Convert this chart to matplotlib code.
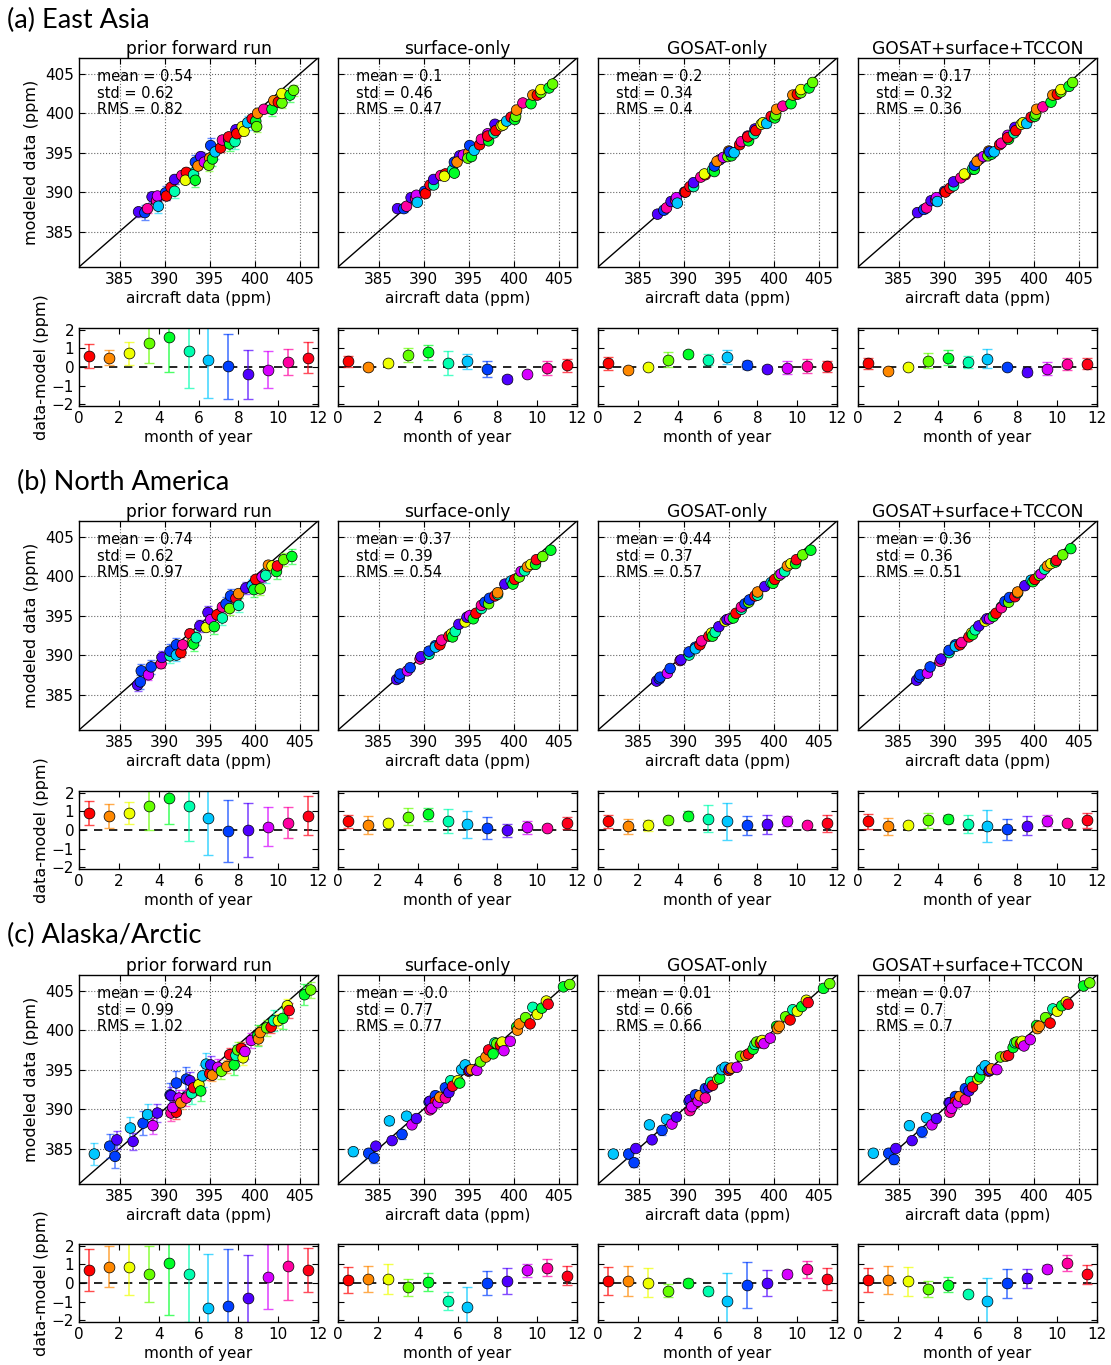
#!/usr/bin/env python3
"""
Aircraft vs modeled CO2 comparison: scatter + monthly residual panels for three regions.
"""
import numpy as np
import matplotlib
matplotlib.use("Agg")
import matplotlib.pyplot as plt

# ---------------------------------------------------------------- data
regions = ["(a) East Asia", "(b) North America", "(c) Alaska/Arctic"]
runs = ["prior forward run", "surface-only", "GOSAT-only", "GOSAT+surface+TCCON"]
month_pos = [0.5, 1.5, 2.5, 3.5, 4.5, 5.5, 6.5, 7.5, 8.5, 9.5, 10.5, 11.5]

# East Asia
x_a = [387.1, 387.8, 388.1, 388.6, 389.1, 389.2, 389.3, 390.1, 390.2, 390.7,
       391.1, 391.1, 391.9, 392.4, 392.3, 393.2, 393.4, 393.4, 394.0, 393.7,
       394.4, 395.0, 394.9, 395.3, 395.1, 395.6, 396.2, 396.4, 397.1, 397.2,
       397.1, 397.8, 397.9, 398.0, 398.6, 398.8, 399.2, 399.7, 400.1, 400.2,
       400.3, 401.0, 401.9, 402.1, 402.6, 403.0, 403.0, 403.9, 404.3]
mon_a = [8, 7, 10, 8, 10, 9, 6, 7, 0, 11, 5, 8, 10, 0, 2, 5, 4, 7, 8, 1,
         9, 1, 3, 4, 7, 6, 0, 10, 9, 4, 11, 5, 8, 0, 2, 2, 6, 11, 4, 3,
         1, 10, 4, 1, 0, 3, 2, 4, 3]
y_prior_a = [387.5, 387.4, 387.9, 389.4, 388.9, 389.5, 388.2, 389.9, 389.5, 390.6,
             390.1, 391.6, 392.1, 392.5, 391.5, 392.2, 391.5, 393.8, 394.5, 393.3,
             393.8, 394.3, 393.4, 394.2, 395.9, 395.1, 395.6, 396.6, 396.6, 396.1,
             397.0, 396.4, 397.9, 397.4, 398.3, 397.7, 398.8, 399.3, 399.0, 398.3,
             400.0, 400.5, 400.5, 401.6, 401.4, 401.3, 402.5, 402.3, 402.9]
y_surf_a = [387.9, 387.9, 388.2, 389.3, 389.2, 389.6, 388.7, 390.1, 389.8, 390.9,
            390.9, 391.6, 392.1, 392.3, 392.0, 392.8, 392.4, 393.8, 394.6, 393.8,
            394.7, 395.0, 394.3, 394.5, 395.9, 395.3, 396.0, 396.7, 397.4, 396.5,
            397.1, 397.5, 398.6, 397.8, 398.4, 398.5, 399.0, 399.5, 399.2, 399.6,
            400.4, 401.3, 401.2, 402.3, 402.3, 402.6, 403.0, 403.2, 403.7]
y_gosat_a = [387.2, 387.7, 388.0, 388.8, 389.0, 389.3, 388.6, 390.0, 390.0, 390.7,
             390.7, 391.2, 391.9, 392.2, 392.3, 392.8, 392.6, 393.3, 394.1, 393.9,
             394.4, 395.2, 394.5, 394.6, 395.1, 395.0, 396.0, 396.4, 397.1, 396.5,
             397.0, 397.4, 398.0, 397.8, 398.6, 398.8, 398.7, 399.6, 399.4, 399.8,
             400.5, 400.9, 401.2, 402.3, 402.4, 402.6, 403.0, 403.2, 403.9]
y_comb_a = [387.4, 387.8, 388.0, 388.9, 389.0, 389.3, 388.8, 390.1, 390.0, 390.5,
            390.8, 391.3, 391.8, 392.2, 392.3, 392.9, 392.9, 393.4, 394.2, 393.9,
            394.5, 395.2, 394.6, 394.8, 395.1, 395.1, 396.0, 396.2, 397.2, 396.7,
            396.9, 397.5, 398.2, 397.8, 398.6, 398.8, 398.7, 399.5, 399.6, 399.9,
            400.5, 400.8, 401.4, 402.3, 402.4, 402.7, 403.0, 403.4, 403.9]
sc_err_prior_a = [0.5, 0.4, 0.5, 0.7, 0.9, 0.9, 0.9, 0.9, 0.6, 0.5, 0.5, 0.5]
sc_err_post_a = [0.15, 0.1, 0.1, 0.2, 0.2, 0.3, 0.4, 0.4, 0.15, 0.1, 0.2, 0.15]

# North America
x_b = [387.0, 387.3, 387.4, 388.2, 388.5, 389.6, 389.7, 390.6, 390.6, 391.3,
       391.3, 391.8, 392.0, 392.8, 393.1, 393.2, 393.5, 393.9, 394.6, 394.8,
       395.1, 395.5, 395.8, 396.4, 396.4, 396.8, 397.2, 397.3, 397.9, 398.2,
       398.2, 399.0, 399.7, 399.9, 400.1, 400.6, 400.8, 401.2, 401.5, 401.9,
       402.4, 402.5, 403.2, 404.1]
mon_b = [8, 7, 7, 9, 7, 10, 8, 5, 7, 7, 6, 0, 10, 11, 2, 4, 5, 8, 2, 8,
         9, 4, 0, 5, 10, 7, 3, 7, 11, 5, 1, 8, 6, 4, 0, 3, 9, 5, 1, 2,
         4, 11, 3, 4]
y_prior_b = [386.2, 386.6, 388.0, 387.5, 388.5, 388.9, 389.7, 389.9, 390.5, 391.3,
             390.0, 390.3, 391.3, 392.7, 391.6, 391.4, 392.2, 393.7, 393.5, 395.4,
             394.5, 393.6, 395.1, 394.7, 396.1, 396.5, 395.9, 397.5, 397.2, 396.3,
             397.8, 398.5, 398.8, 398.3, 399.6, 398.4, 399.9, 400.1, 401.4, 401.3,
             400.6, 401.3, 402.1, 402.5]
y_surf_b = [386.9, 387.1, 387.6, 388.0, 388.4, 389.5, 389.8, 390.1, 390.5, 391.2,
            391.0, 391.3, 391.9, 392.4, 392.7, 392.3, 393.0, 393.9, 394.2, 394.8,
            395.0, 394.6, 395.3, 395.9, 396.3, 396.7, 396.5, 397.2, 397.5, 397.7,
            397.9, 399.0, 399.4, 399.0, 399.6, 399.9, 400.6, 400.7, 401.2, 401.5,
            401.5, 402.1, 402.5, 403.3]
y_gosat_b = [386.7, 387.0, 387.2, 387.7, 388.3, 389.3, 389.4, 390.0, 390.4, 391.0,
             390.8, 391.3, 391.8, 392.4, 392.8, 392.4, 392.9, 393.6, 394.3, 394.5,
             394.6, 394.7, 395.3, 395.8, 396.1, 396.5, 396.7, 397.0, 397.5, 397.6,
             398.0, 398.7, 399.2, 399.1, 399.6, 400.1, 400.3, 400.6, 401.3, 401.6,
             401.6, 402.1, 402.7, 403.3]
y_comb_b = [386.8, 387.2, 387.5, 387.7, 388.5, 389.2, 389.5, 390.3, 390.6, 391.3,
            391.1, 391.3, 391.6, 392.3, 392.8, 392.6, 393.2, 393.7, 394.3, 394.6,
            394.6, 394.9, 395.3, 396.1, 396.0, 396.8, 396.7, 397.3, 397.4, 397.9,
            398.0, 398.8, 399.5, 399.3, 399.6, 400.1, 400.3, 400.9, 401.3, 401.6,
            401.8, 402.0, 402.7, 403.5]
sc_err_prior_b = [0.5, 0.5, 0.5, 0.8, 0.9, 0.9, 0.8, 0.9, 0.8, 0.6, 0.5, 0.6]
sc_err_post_b = [0.15, 0.15, 0.1, 0.2, 0.2, 0.3, 0.4, 0.4, 0.2, 0.15, 0.1, 0.2]

# Alaska/Arctic
x_c = [382.2, 383.9, 384.5, 384.7, 386.2, 386.5, 387.6, 388.1, 388.7, 389.2,
       390.6, 390.7, 390.7, 391.3, 391.3, 390.9, 391.6, 391.8, 392.4, 392.4,
       392.8, 393.0, 393.2, 393.8, 394.0, 394.2, 394.6, 395.0, 395.1, 395.3,
       395.9, 396.3, 396.9, 397.2, 397.7, 397.9, 398.1, 398.5, 398.7, 398.9,
       399.6, 400.3, 400.4, 400.6, 401.3, 401.8, 402.1, 402.6, 403.1, 403.6,
       403.8, 405.5, 406.2]
mon_c = [6, 7, 7, 8, 6, 8, 7, 6, 9, 8, 7, 8, 10, 7, 0, 9, 9, 1, 7, 10,
         8, 5, 11, 2, 4, 6, 6, 0, 8, 1, 9, 3, 1, 11, 4, 5, 3, 0, 2, 9,
         9, 4, 1, 1, 3, 0, 5, 2, 4, 2, 11, 4, 3]
y_prior_c = [384.3, 385.3, 384.0, 386.1, 387.6, 385.9, 388.2, 389.3, 387.9, 389.5,
             391.8, 391.7, 389.5, 393.3, 389.6, 390.2, 391.4, 390.8, 393.8, 391.4,
             393.6, 392.0, 392.7, 393.1, 392.3, 394.2, 395.7, 394.5, 395.6, 394.3,
             395.3, 394.8, 395.4, 396.9, 395.6, 396.8, 397.5, 397.7, 396.5, 397.3,
             398.7, 399.3, 398.9, 399.7, 400.3, 400.4, 401.2, 401.2, 401.5, 403.1,
             402.5, 404.5, 405.1]
y_surf_c = [384.6, 384.4, 383.8, 385.3, 388.5, 386.0, 386.8, 389.1, 388.0, 388.8,
            390.9, 391.0, 389.9, 391.7, 390.9, 390.1, 390.8, 391.5, 392.7, 391.4,
            392.1, 393.6, 392.9, 393.6, 393.3, 395.0, 395.6, 394.8, 394.9, 395.0,
            394.9, 396.0, 396.6, 397.5, 397.0, 398.4, 398.3, 398.1, 398.5, 397.4,
            398.6, 400.4, 400.0, 400.8, 401.6, 400.8, 402.9, 402.0, 402.8, 403.7,
            403.3, 405.5, 405.8]
y_gosat_c = [384.3, 384.3, 383.2, 385.0, 388.0, 386.1, 387.3, 388.7, 388.1, 389.0,
             391.0, 391.2, 389.8, 391.8, 390.7, 390.3, 391.0, 391.7, 392.6, 391.4,
             392.8, 393.4, 393.0, 393.8, 393.9, 395.0, 395.3, 394.9, 395.1, 395.2,
             395.3, 396.7, 396.8, 397.0, 397.6, 398.2, 398.5, 398.4, 398.7, 398.3,
             399.0, 400.5, 400.2, 400.5, 401.7, 401.3, 402.6, 402.4, 403.0, 403.8,
             403.5, 405.3, 405.9]
y_comb_c = [384.4, 384.4, 383.6, 385.0, 387.9, 386.0, 387.1, 388.9, 388.0, 388.8,
            390.8, 390.8, 389.6, 391.6, 390.9, 390.1, 390.8, 391.6, 392.6, 391.2,
            392.3, 393.5, 392.8, 393.8, 394.1, 395.0, 395.5, 394.8, 394.9, 395.1,
            395.0, 396.6, 396.7, 396.8, 397.8, 398.4, 398.5, 398.3, 398.6, 398.0,
            398.8, 400.6, 400.2, 400.5, 401.6, 400.9, 402.7, 402.4, 403.1, 403.6,
            403.3, 405.6, 406.0]
sc_err_prior_c = [0.8, 0.8, 0.9, 1.0, 1.3, 1.3, 1.4, 1.5, 1.1, 1.0, 1.0, 0.9]
sc_err_post_c = [0.1, 0.1, 0.1, 0.1, 0.1, 0.2, 0.5, 0.6, 0.2, 0.1, 0.1, 0.1]

# summary statistics printed in each scatter panel
stats_a = [("0.54", "0.62", "0.82"), ("0.1", "0.46", "0.47"),
           ("0.2", "0.34", "0.4"), ("0.17", "0.32", "0.36")]
stats_b = [("0.74", "0.62", "0.97"), ("0.37", "0.39", "0.54"),
           ("0.44", "0.37", "0.57"), ("0.36", "0.36", "0.51")]
stats_c = [("0.24", "0.99", "1.02"), ("-0.0", "0.77", "0.77"),
           ("0.01", "0.66", "0.66"), ("0.07", "0.7", "0.7")]

# monthly mean residual (data-model) and its spread
res_prior_a = [0.6, 0.5, 0.75, 1.3, 1.6, 0.85, 0.4, 0.05, -0.4, -0.15, 0.25, 0.5]
err_prior_a = [0.65, 0.4, 0.62, 1.1, 1.85, 2.0, 2.05, 1.75, 1.3, 1.0, 0.7, 0.82]
res_surf_a = [0.3, 0.0, 0.2, 0.65, 0.8, 0.2, 0.3, -0.1, -0.65, -0.4, -0.05, 0.1]
err_surf_a = [0.3, 0.15, 0.15, 0.4, 0.4, 0.65, 0.4, 0.45, 0.15, 0.1, 0.4, 0.35]
res_gosat_a = [0.2, -0.18, 0.0, 0.4, 0.7, 0.4, 0.55, 0.1, -0.1, -0.05, 0.05, 0.05]
err_gosat_a = [0.35, 0.15, 0.1, 0.4, 0.15, 0.3, 0.38, 0.2, 0.15, 0.35, 0.38, 0.3]
res_comb_a = [0.2, -0.2, 0.0, 0.35, 0.5, 0.27, 0.45, 0.0, -0.25, -0.1, 0.15, 0.18]
err_comb_a = [0.3, 0.1, 0.1, 0.4, 0.4, 0.33, 0.5, 0.1, 0.17, 0.35, 0.33, 0.3]

res_prior_b = [0.93, 0.77, 0.9, 1.3, 1.7, 1.3, 0.62, -0.05, 0.0, 0.18, 0.4, 0.78]
err_prior_b = [0.65, 0.65, 0.6, 1.3, 1.4, 1.9, 1.97, 1.65, 1.45, 1.05, 0.85, 1.05]
res_surf_b = [0.47, 0.26, 0.38, 0.72, 0.86, 0.47, 0.3, 0.12, -0.02, 0.15, 0.12, 0.38]
err_surf_b = [0.35, 0.5, 0.15, 0.45, 0.35, 0.65, 0.72, 0.6, 0.35, 0.35, 0.12, 0.3]
res_gosat_b = [0.47, 0.2, 0.26, 0.52, 0.78, 0.6, 0.47, 0.26, 0.3, 0.47, 0.26, 0.35]
err_gosat_b = [0.35, 0.4, 0.3, 0.2, 0.25, 0.73, 1.0, 0.52, 0.5, 0.28, 0.1, 0.48]
res_comb_b = [0.47, 0.2, 0.26, 0.53, 0.6, 0.33, 0.2, 0.03, 0.24, 0.5, 0.38, 0.53]
err_comb_b = [0.4, 0.47, 0.12, 0.4, 0.22, 0.5, 0.85, 0.58, 0.5, 0.3, 0.12, 0.4]

res_prior_c = [0.7, 0.87, 0.84, 0.48, 1.1, 0.48, -1.33, -1.26, -0.8, 0.34, 0.92, 0.71]
err_prior_c = [1.13, 1.1, 1.5, 1.5, 2.8, 2.6, 2.9, 3.1, 2.3, 1.75, 1.85, 1.2]
res_surf_c = [0.16, 0.2, 0.2, -0.23, 0.07, -0.98, -1.3, -0.02, 0.1, 0.68, 0.82, 0.39]
err_surf_c = [0.7, 0.7, 0.8, 0.45, 0.48, 0.5, 1.1, 0.65, 0.7, 0.35, 0.45, 0.5]
res_gosat_c = [0.1, 0.1, 0.02, -0.42, 0.02, -0.42, -0.98, -0.1, -0.02, 0.5, 0.74, 0.2]
err_gosat_c = [0.75, 0.8, 0.8, 0.35, 0.2, 0.2, 1.5, 1.25, 0.7, 0.2, 0.45, 0.6]
res_comb_c = [0.16, 0.16, 0.1, -0.33, -0.1, -0.57, -0.95, -0.02, 0.25, 0.77, 1.07, 0.47]
err_comb_c = [0.65, 0.75, 0.78, 0.45, 0.4, 0.15, 1.2, 0.8, 0.5, 0.2, 0.45, 0.5]

# ---------------------------------------------------------------- layout
W, H = 1111, 1365
COL_LEFT = [79, 338, 598, 858]
AX_W = 239
SCAT_TOP = [58, 521, 975]
SCAT_H = 209
MON_TOP = [328, 791, 1244]
MON_H = 78
REGION_XY = [(7, 20), (17, 482), (7, 935)]
LIM = (380.5, 407.0)

month_colors = plt.cm.hsv(np.linspace(0, 1, 12))

plt.rcParams.update({
    "font.family": "DejaVu Sans",
    "font.size": 11,
    "axes.linewidth": 1.0,
    "xtick.direction": "in",
    "ytick.direction": "in",
    "xtick.top": True,
    "ytick.right": True,
    "xtick.major.size": 4,
    "ytick.major.size": 4,
    "xtick.labelsize": 11,
    "ytick.labelsize": 11,
})


def px_axes(fig, left, top, w, h):
    return fig.add_axes([left / W, 1 - (top + h) / H, w / W, h / H])


def draw_scatter(ax, x, months, y, err, stats, first):
    x = np.asarray(x)
    y = np.asarray(y)
    m = np.asarray(months)
    ax.plot(LIM, LIM, color="k", lw=1.0, zorder=1)
    for k in range(12):
        sel = m == k
        if sel.any():
            ax.errorbar(x[sel], y[sel], yerr=err[k], fmt="none",
                        ecolor=month_colors[k], alpha=0.6, elinewidth=1.2,
                        capsize=3, capthick=1.0, zorder=2)
    ax.scatter(x, y, c=month_colors[m], s=58, edgecolors="k",
               linewidths=0.5, zorder=3)
    ax.set_xlim(LIM)
    ax.set_ylim(LIM)
    ticks = [385, 390, 395, 400, 405]
    ax.set_xticks(ticks)
    ax.set_yticks(ticks)
    ax.grid(True, ls=":", color="0.4", lw=0.8)
    ax.set_axisbelow(True)
    ax.set_xlabel("aircraft data (ppm)", fontsize=11, labelpad=3)
    if first:
        ax.set_ylabel("modeled data (ppm)", fontsize=11.5)
    else:
        ax.set_yticklabels([])
    mean, std, rms = stats
    ax.text(0.075, 0.945, f"mean = {mean}\nstd = {std}\nRMS = {rms}",
            transform=ax.transAxes, va="top", ha="left", fontsize=10.5,
            linespacing=1.1, zorder=4)


def draw_month(ax, res, err, first):
    ax.axhline(0, color="k", ls="--", lw=1.2, dashes=(5, 4), zorder=1)
    for k in range(12):
        ax.errorbar(month_pos[k], res[k], yerr=err[k], fmt="none",
                    ecolor=month_colors[k], alpha=0.7, elinewidth=1.2,
                    capsize=3.5, capthick=1.0, zorder=2)
        ax.plot(month_pos[k], res[k], "o", ms=7.8, mfc=month_colors[k],
                mec="k", mew=0.5, zorder=3)
    ax.set_xlim(0, 12)
    ax.set_ylim(-2.1, 2.1)
    ax.set_xticks(range(0, 13, 2))
    ax.set_yticks([-2, -1, 0, 1, 2])
    ax.set_xlabel("month of year", fontsize=11, labelpad=3)
    if first:
        ax.set_ylabel("data-model (ppm)", fontsize=11.5, labelpad=2)
    else:
        ax.set_yticklabels([])


def main():
    fig = plt.figure(figsize=(W / 100, H / 100), dpi=100)

    scatter_sets = [
        (x_a, mon_a, [y_prior_a, y_surf_a, y_gosat_a, y_comb_a],
         [sc_err_prior_a, sc_err_post_a, sc_err_post_a, sc_err_post_a], stats_a),
        (x_b, mon_b, [y_prior_b, y_surf_b, y_gosat_b, y_comb_b],
         [sc_err_prior_b, sc_err_post_b, sc_err_post_b, sc_err_post_b], stats_b),
        (x_c, mon_c, [y_prior_c, y_surf_c, y_gosat_c, y_comb_c],
         [sc_err_prior_c, sc_err_post_c, sc_err_post_c, sc_err_post_c], stats_c),
    ]
    month_sets = [
        [(res_prior_a, err_prior_a), (res_surf_a, err_surf_a),
         (res_gosat_a, err_gosat_a), (res_comb_a, err_comb_a)],
        [(res_prior_b, err_prior_b), (res_surf_b, err_surf_b),
         (res_gosat_b, err_gosat_b), (res_comb_b, err_comb_b)],
        [(res_prior_c, err_prior_c), (res_surf_c, err_surf_c),
         (res_gosat_c, err_gosat_c), (res_comb_c, err_comb_c)],
    ]

    for r in range(3):
        x, months, ys, errs, stats = scatter_sets[r]
        for c in range(4):
            ax = px_axes(fig, COL_LEFT[c], SCAT_TOP[r], AX_W, SCAT_H)
            draw_scatter(ax, x, months, ys[c], errs[c], stats[c], c == 0)
            ax.set_title(runs[c], fontsize=12.3, pad=3)

            axm = px_axes(fig, COL_LEFT[c], MON_TOP[r], AX_W, MON_H)
            res, err = month_sets[r][c]
            draw_month(axm, res, err, c == 0)

        rx, ry = REGION_XY[r]
        fig.text(rx / W, 1 - ry / H, regions[r], fontsize=19.5,
                 family=["Lato", "DejaVu Sans"], va="center", ha="left")

    fig.savefig("out.png", dpi=100)
    plt.close(fig)


if __name__ == "__main__":
    main()
